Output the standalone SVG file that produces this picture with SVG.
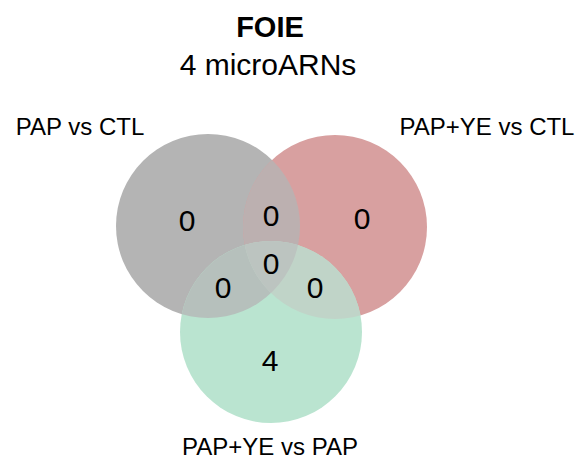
<svg xmlns="http://www.w3.org/2000/svg" width="578" height="462" viewBox="0 0 578 462">
<style>
text{font-family:"Liberation Sans",Arial,sans-serif;fill:#000;text-anchor:middle}
.lab{font-size:24px}
.num{font-size:30px}
</style>
<defs>
<clipPath id="cG"><circle cx="208" cy="226" r="92"/></clipPath>
<clipPath id="cR"><circle cx="335" cy="227" r="92"/></clipPath>
<clipPath id="cV"><circle cx="271" cy="332" r="91"/></clipPath>
</defs>
<rect width="578" height="462" fill="#fff"/>
<g id="set-pap-ctl"><circle cx="208" cy="226" r="92" fill="#b4b4b4"/></g>
<g id="set-papye-ctl"><circle cx="335" cy="227" r="92" fill="#d8a0a0"/></g>
<g id="set-papye-pap"><circle cx="271" cy="332" r="91" fill="#bae4d0"/></g>
<g id="overlaps">
<g clip-path="url(#cG)"><circle cx="335" cy="227" r="92" fill="#bcb0b0"/></g>
<g clip-path="url(#cG)"><circle cx="271" cy="332" r="91" fill="#b6c0bc"/></g>
<g clip-path="url(#cR)"><circle cx="271" cy="332" r="91" fill="#c0d4c8"/></g>
<g clip-path="url(#cG)"><g clip-path="url(#cR)"><circle cx="271" cy="332" r="91" fill="#bcc4c0"/></g></g>
</g>
<g id="connectors"/>
<g id="title">
<text x="270" y="37" style="font-size:29px;font-weight:bold">FOIE</text>
<text x="268" y="75" style="font-size:30px">4 microARNs</text>
</g>
<g id="labels">
<text class="lab" x="80" y="135">PAP vs CTL</text>
<text class="lab" x="487" y="135">PAP+YE vs CTL</text>
<text class="lab" x="270" y="455">PAP+YE vs PAP</text>
</g>
<g id="counts">
<text class="num" x="187" y="231">0</text>
<text class="num" x="271" y="226">0</text>
<text class="num" x="362" y="229">0</text>
<text class="num" x="271" y="274">0</text>
<text class="num" x="223" y="298">0</text>
<text class="num" x="315" y="298">0</text>
<text class="num" x="270" y="371">4</text>
</g>
</svg>
